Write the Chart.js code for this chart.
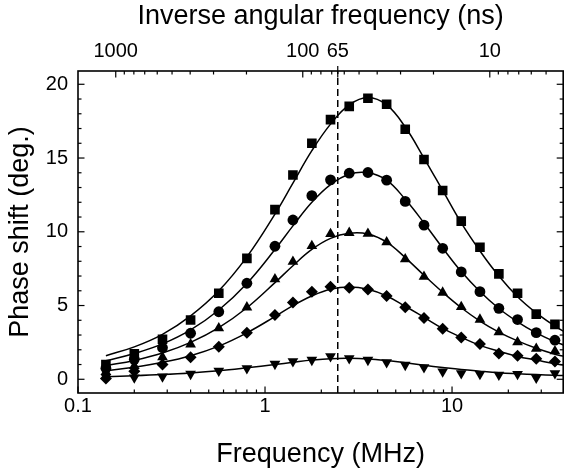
<!DOCTYPE html>
<html lang="en">
<head>
  <meta charset="UTF-8" />
  <title>Phase shift vs frequency</title>
  <script src="https://cdn.jsdelivr.net/npm/chart.js"></script>
  <style>
    body { margin: 0; background: #fff; }
    #wrap { width: 570px; height: 469px; }
  </style>
</head>
<body>
  <div id="wrap"><canvas id="phaseChart"></canvas></div>

  <script>
    // measured frequencies (MHz)
    const freqMHz = [0.141, 0.2, 0.283, 0.4, 0.566, 0.8, 1.13, 1.41, 1.78, 2.24, 2.82,
                     3.55, 4.47, 5.62, 7.08, 8.91, 11.2, 14.1, 17.8, 22.4, 28.2, 35.5];

    // phase shift (deg.) per marker series
    const squareVals   = [1.0, 1.72, 2.71, 4.02, 5.83, 8.2, 11.5, 13.85, 16.0, 17.6, 18.5,
                          19.05, 18.65, 16.95, 14.9, 12.8, 10.72, 8.95, 7.15, 5.83, 4.42, 3.72];
    const circleVals   = [0.75, 1.35, 2.14, 3.12, 4.58, 6.51, 9.02, 10.8, 12.45, 13.52, 13.97,
                          14.02, 13.5, 12.06, 10.45, 8.88, 7.28, 5.94, 4.81, 4.05, 3.16, 2.65];
    const triangleVals = [0.5, 0.9, 1.5, 2.37, 3.46, 4.88, 6.78, 7.97, 9.04, 9.85, 9.93,
                          9.87, 9.3, 8.14, 6.95, 5.88, 4.9, 4.05, 3.2, 2.52, 2.08, 1.9];
    const diamondVals  = [0.05, 0.55, 1.0, 1.49, 2.21, 3.16, 4.36, 5.2, 5.94, 6.28, 6.2,
                          6.08, 5.65, 4.88, 4.15, 3.42, 2.83, 2.39, 1.75, 1.6, 1.4, 1.2];
    const downTriVals  = [0.15, 0.12, 0.18, 0.36, 0.58, 0.74, 1.04, 1.22, 1.31, 1.55, 1.42,
                          1.31, 1.15, 0.97, 0.81, 0.52, 0.41, 0.35, 0.3, 0.35, 0.1, 0.4];

    // fitted curves
    const fitFreqMHz = [0.141, 0.2, 0.283, 0.4, 0.566, 0.8, 1.13, 1.41, 1.78, 2.24, 2.82,
                        3.55, 4.47, 5.62, 7.08, 8.91, 11.2, 14.1, 17.8, 22.4, 28.2, 35.5, 40];
    const squareFit   = [1.6, 2.2, 3.05, 4.3, 6.0, 8.3, 11.2, 13.3, 15.5, 17.3, 18.6,
                         19.1, 18.6, 17.1, 15.0, 12.8, 10.6, 8.7, 7.0, 5.6, 4.5, 3.6, 3.2];
    const circleFit   = [1.25, 1.75, 2.4, 3.35, 4.7, 6.5, 8.8, 10.4, 12.0, 13.2, 13.9,
                         14.0, 13.5, 12.2, 10.6, 8.9, 7.3, 5.95, 4.8, 3.9, 3.15, 2.55, 2.3];
    const triangleFit = [0.92, 1.28, 1.78, 2.5, 3.5, 4.85, 6.55, 7.7, 8.8, 9.55, 9.9,
                         9.85, 9.3, 8.25, 7.05, 5.9, 4.85, 3.95, 3.2, 2.6, 2.1, 1.7, 1.55];
    const diamondFit  = [0.58, 0.82, 1.15, 1.6, 2.25, 3.15, 4.25, 5.0, 5.65, 6.1, 6.25,
                         6.1, 5.65, 4.95, 4.2, 3.45, 2.85, 2.3, 1.9, 1.55, 1.3, 1.05, 0.95];
    const downTriFit  = [0.18, 0.24, 0.32, 0.43, 0.58, 0.78, 1.0, 1.15, 1.3, 1.4, 1.42,
                         1.38, 1.27, 1.12, 0.95, 0.8, 0.66, 0.55, 0.45, 0.38, 0.32, 0.27, 0.25];

    // axes
    const xTicks = [0.1, 1, 10];
    const nsTicks = [1000, 100, 65, 10];
    const nsMinor = [900, 800, 700, 600, 500, 400, 300, 200, 90, 80, 70, 60, 50, 40, 30, 20, 9, 8, 7, 6, 5];
    const yTicks = [0, 5, 10, 15, 20];
    const markerNs = 65;
    const xMin = 0.1, xMax = 39.3;
    const yMin = -0.93, yMax = 20.9;

    const nsToMHz = ns => 1000 / (2 * Math.PI * ns);

    const xMinor = [];
    [0.1, 1, 10].forEach(d => { for (let k = 2; k <= 9; k++) if (d * k < xMax) xMinor.push(d * k); });
    const yMinor = [];
    for (let v = 0; v <= 20; v++) if (v % 5) yMinor.push(v);

    const pts = vals => vals.map((v, i) => ({ x: freqMHz[i], y: v }));
    const fit = vals => vals.map((v, i) => ({ x: fitFreqMHz[i], y: v }));

    const FONT = 'Liberation Sans, Arial, sans-serif';
    const titleFont = { family: FONT, size: 27, lineHeight: 1.1 };
    const tickFont = { family: FONT, size: 20 };

    function markers(vals, style, r, rot) {
      return {
        data: pts(vals), showLine: false, order: 0,
        pointStyle: style, pointRadius: r, pointRotation: rot || 0,
        pointBackgroundColor: '#000', pointBorderColor: '#000', pointBorderWidth: 0
      };
    }
    function curve(vals) {
      return {
        data: fit(vals), showLine: true, order: 1, pointRadius: 0,
        borderColor: '#000', borderWidth: 1.5, tension: 0.4
      };
    }

    // inward ticks + frame
    const frameTicks = {
      id: 'frameTicks',
      afterDatasetsDraw(chart) {
        const { ctx, chartArea: a, scales } = chart;
        ctx.save();
        ctx.strokeStyle = '#000';
        ctx.lineWidth = 1.2;
        const seg = (x1, y1, x2, y2) => { ctx.beginPath(); ctx.moveTo(x1, y1); ctx.lineTo(x2, y2); ctx.stroke(); };
        xTicks.forEach(v => { const p = scales.x.getPixelForValue(v); seg(p, a.bottom, p, a.bottom - 6.5); });
        xMinor.forEach(v => { const p = scales.x.getPixelForValue(v); seg(p, a.bottom, p, a.bottom - 3.5); });
        nsTicks.forEach(ns => { const p = scales.x2.getPixelForValue(nsToMHz(ns)); seg(p, a.top, p, a.top + 6.5); });
        nsMinor.forEach(ns => {
          const f = nsToMHz(ns);
          if (f > xMin && f < xMax) { const p = scales.x2.getPixelForValue(f); seg(p, a.top, p, a.top + 3.5); }
        });
        const p65 = scales.x2.getPixelForValue(nsToMHz(markerNs));
        seg(p65, a.top, p65, a.top - 5);
        yTicks.forEach(v => {
          const p = scales.y.getPixelForValue(v);
          seg(a.left, p, a.left + 6.5, p); seg(a.right, p, a.right - 6.5, p);
        });
        yMinor.forEach(v => {
          const p = scales.y.getPixelForValue(v);
          seg(a.left, p, a.left + 3.5, p); seg(a.right, p, a.right - 3.5, p);
        });
        ctx.lineWidth = 1.6;
        ctx.strokeRect(a.left, a.top, a.right - a.left, a.bottom - a.top);
        ctx.restore();
      }
    };

    const f65 = nsToMHz(markerNs);

    new Chart(document.getElementById('phaseChart'), {
      type: 'scatter',
      data: {
        datasets: [
          markers(squareVals, 'rect', 6.8),
          markers(circleVals, 'circle', 5.4),
          markers(triangleVals, 'triangle', 6.2),
          markers(diamondVals, 'rectRot', 6),
          markers(downTriVals, 'triangle', 6.2, 180),
          curve(squareFit),
          curve(circleFit),
          curve(triangleFit),
          curve(diamondFit),
          curve(downTriFit),
          {
            data: [{ x: f65, y: yMin }, { x: f65, y: yMax }],
            showLine: true, order: 2, pointRadius: 0,
            borderColor: '#000', borderWidth: 1.5, borderDash: [7, 4]
          }
        ]
      },
      options: {
        responsive: true,
        maintainAspectRatio: false,
        animation: false,
        layout: { padding: { right: 1 } },
        plugins: { legend: { display: false }, tooltip: { enabled: false } },
        scales: {
          x: {
            type: 'logarithmic', position: 'bottom', min: xMin, max: xMax,
            grid: { display: false, drawTicks: false }, border: { display: false },
            afterBuildTicks: s => { s.ticks = xTicks.map(v => ({ value: v })); },
            afterFit: s => { s.height = 76; },
            ticks: {
              autoSkip: false, maxRotation: 0, padding: 1, color: '#000',
              font: tickFont,
              callback: (v, i) => String(xTicks[i])
            },
            title: {
              display: true, text: 'Frequency (MHz)', color: '#000',
              font: titleFont, padding: { top: 0, bottom: 0 }
            }
          },
          x2: {
            type: 'logarithmic', position: 'top', min: xMin, max: xMax,
            grid: { display: false, drawTicks: false }, border: { display: false },
            afterBuildTicks: s => { s.ticks = nsTicks.map(ns => ({ value: nsToMHz(ns) })); },
            afterFit: s => { s.height = 71; },
            ticks: {
              autoSkip: false, maxRotation: 0, padding: 7.5, color: '#000',
              font: tickFont,
              callback: (v, i) => String(nsTicks[i])
            },
            title: {
              display: true, text: 'Inverse angular frequency (ns)', color: '#000',
              font: titleFont, padding: { top: 1.5, bottom: 0 }
            }
          },
          y: {
            type: 'linear', position: 'left', min: yMin, max: yMax,
            grid: { display: false, drawTicks: false }, border: { display: false },
            afterBuildTicks: s => { s.ticks = yTicks.map(v => ({ value: v })); },
            afterFit: s => { s.width = 78; },
            ticks: { padding: 10, color: '#000', font: tickFont },
            title: {
              display: true, text: 'Phase shift (deg.)', color: '#000',
              font: titleFont, padding: { top: 6, bottom: 0 }
            }
          }
        }
      },
      plugins: [frameTicks]
    });
  </script>
</body>
</html>
